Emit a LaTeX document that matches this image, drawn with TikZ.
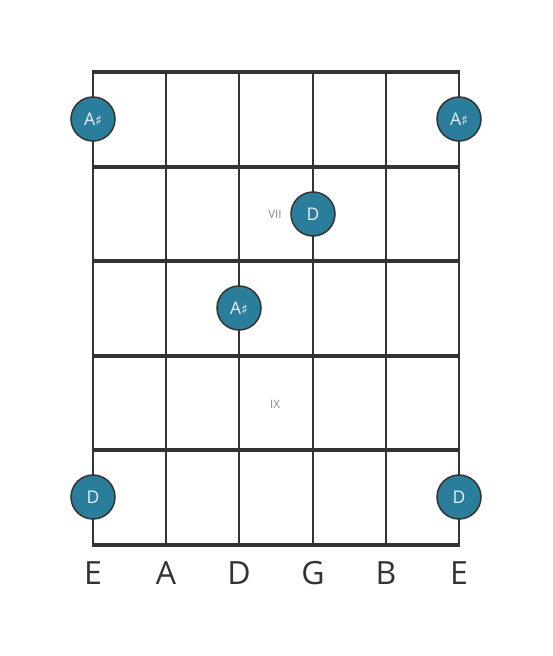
\documentclass[tikz,border=0pt]{standalone}
\usepackage{fontspec}
\setmainfont{Open Sans}
\newfontfamily\symfont{DejaVu Sans}
\definecolor{dotfill}{HTML}{2B7E9B}
\definecolor{gridc}{HTML}{333333}
\definecolor{dottext}{HTML}{E6F2F6}
\definecolor{roman}{HTML}{888888}
\begin{document}
\begin{tikzpicture}[x=1pt,y=-1pt,
  fretline/.style={gridc,line width=4pt},
  stringline/.style={gridc,line width=2.5pt},
  notedot/.style={circle,draw=gridc,line width=1.5pt,fill=dotfill,minimum size=44pt,inner sep=0pt,text=dottext,font=\fontsize{17.5}{17.5}\selectfont},
  strlabel/.style={text=gridc,font=\fontsize{32}{32}\selectfont},
  fretnum/.style={text=roman,font=\fontsize{11.5}{11.5}\selectfont}]
\useasboundingbox (0,0) rectangle (553,656);
\fill[white] (0,0) rectangle (553,656);
% strings
\foreach \x [count=\i] in {93,166,239,313,386,459} {
  \coordinate (st\i) at (\x,72);
  \coordinate (sb\i) at (\x,545);
  \draw[stringline] (st\i) -- (sb\i);
}
% frets
\foreach \y [count=\j] in {72,167,261,356,450,545} {
  \coordinate (fl\j) at (91.75,\y);
  \coordinate (fr\j) at (460.25,\y);
  \draw[fretline] (fl\j) -- (fr\j);
}
% fret numbers
\node[fretnum] (vii) at (275,214) {VII};
\node[fretnum] (ix) at (275,404) {IX};
% dots
\node[notedot] (d1) at (93,119) {A{\symfont\fontsize{14}{14}\selectfont ♯}};
\node[notedot] (d2) at (459,119) {A{\symfont\fontsize{14}{14}\selectfont ♯}};
\node[notedot] (d3) at (313,214) {D};
\node[notedot] (d4) at (239,308) {A{\symfont\fontsize{14}{14}\selectfont ♯}};
\node[notedot] (d5) at (93,497) {D};
\node[notedot] (d6) at (459,497) {D};
% string labels
\foreach \x/\n [count=\i] in {93/E,166/A,239/D,313/G,386/B,459/E} {
  \node[strlabel] (lab\i) at (\x,573) {\n};
}
\end{tikzpicture}
\end{document}
